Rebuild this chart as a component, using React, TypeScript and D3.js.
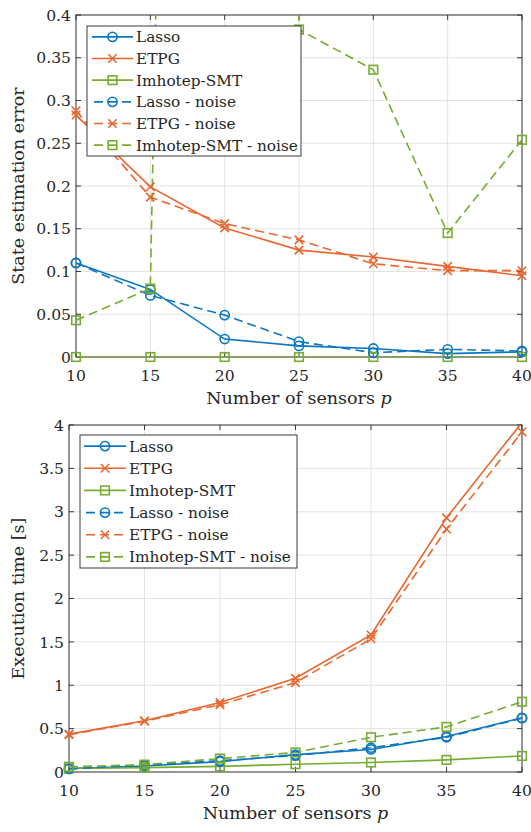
import React from "react";
import * as d3 from "d3";

const sensors = [10, 15, 20, 25, 30, 35, 40];

const errLasso = [0.110, 0.079, 0.021, 0.013, 0.010, 0.004, 0.006];
const errETPG = [0.283, 0.199, 0.151, 0.125, 0.117, 0.106, 0.095];
const errImhotep = [0, 0, 0, 0, 0, 0, 0];
const errLassoNoise = [0.110, 0.072, 0.049, 0.018, 0.005, 0.009, 0.007];
const errETPGNoise = [0.288, 0.187, 0.156, 0.137, 0.109, 0.101, 0.101];
const errImhotepNoise = [0.043, 0.080, 4.5, 0.383, 0.336, 0.145, 0.254];

const timeLasso = [0.04, 0.07, 0.12, 0.20, 0.26, 0.41, 0.625];
const timeETPG = [0.437, 0.59, 0.80, 1.08, 1.58, 2.93, 4.03];
const timeImhotep = [0.04, 0.05, 0.065, 0.09, 0.11, 0.14, 0.185];
const timeLassoNoise = [0.035, 0.08, 0.13, 0.19, 0.28, 0.40, 0.62];
const timeETPGNoise = [0.43, 0.585, 0.775, 1.03, 1.535, 2.80, 3.92];
const timeImhotepNoise = [0.06, 0.085, 0.155, 0.225, 0.40, 0.52, 0.81];

const seriesNames = ["Lasso", "ETPG", "Imhotep-SMT", "Lasso - noise", "ETPG - noise", "Imhotep-SMT - noise"];
const xTicks = [10, 15, 20, 25, 30, 35, 40];
const errTicks = [0, 0.05, 0.1, 0.15, 0.2, 0.25, 0.3, 0.35, 0.4];
const timeTicks = [0, 0.5, 1, 1.5, 2, 2.5, 3, 3.5, 4];

const BLUE = "#0a77c0";
const ORANGE = "#e8662f";
const GREEN = "#77ac30";
const AX = "#262626";
const FONT = "DejaVu Serif";

type Spec = { name: string; values: number[]; color: string; marker: string; dashed: boolean };

function Marker({ type, x, y, color }: { type: string; x: number; y: number; color: string }) {
  if (type === "o") return <circle cx={x} cy={y} r={4.6} fill="none" stroke={color} strokeWidth={1.6} />;
  if (type === "s") return <rect x={x - 4.3} y={y - 4.3} width={8.6} height={8.6} fill="none" stroke={color} strokeWidth={1.6} />;
  const s = 4.2;
  return (
    <g stroke={color} strokeWidth={1.6}>
      <line x1={x - s} y1={y - s} x2={x + s} y2={y + s} />
      <line x1={x - s} y1={y + s} x2={x + s} y2={y - s} />
    </g>
  );
}

function Chart(props: {
  id: string;
  left: number; right: number; top: number; bottom: number;
  yMax: number; yTicks: number[]; yLabel: string;
  series: Spec[];
  legend: { x0: number; x1: number; y0: number; y1: number; sx0: number; sx1: number; tx: number };
}) {
  const { id, left, right, top, bottom, yMax, yTicks, yLabel, series, legend } = props;
  const x = d3.scaleLinear().domain([10, 40]).range([left, right]);
  const y = d3.scaleLinear().domain([0, yMax]).range([bottom, top]);
  const line = d3.line<number>().x((_, i) => x(sensors[i])).y((d) => y(d));
  const tl = 5;
  const rowH = (legend.y1 - legend.y0) / 6;
  return (
    <g>
      <defs>
        <clipPath id={id}>
          <rect x={left} y={top} width={right - left} height={bottom - top} />
        </clipPath>
      </defs>
      <rect x={left} y={top} width={right - left} height={bottom - top} fill="#fff" />
      {xTicks.map((t) => (
        <line key={"gx" + t} x1={x(t)} x2={x(t)} y1={top} y2={bottom} stroke="#e3e3e3" strokeWidth={1} />
      ))}
      {yTicks.map((t) => (
        <line key={"gy" + t} x1={left} x2={right} y1={y(t)} y2={y(t)} stroke="#e3e3e3" strokeWidth={1} />
      ))}
      <rect x={left} y={top} width={right - left} height={bottom - top} fill="none" stroke={AX} strokeWidth={0.9} />
      {xTicks.map((t) => (
        <g key={"tx" + t}>
          <line x1={x(t)} x2={x(t)} y1={bottom} y2={bottom - tl} stroke={AX} strokeWidth={0.9} />
          <line x1={x(t)} x2={x(t)} y1={top} y2={top + tl} stroke={AX} strokeWidth={0.9} />
          <text x={x(t)} y={bottom + 24} textAnchor="middle" fontSize={15.6} fill={AX} fontFamily={FONT}>{t}</text>
        </g>
      ))}
      {yTicks.map((t) => (
        <g key={"ty" + t}>
          <line x1={left} x2={left + tl} y1={y(t)} y2={y(t)} stroke={AX} strokeWidth={0.9} />
          <line x1={right} x2={right - tl} y1={y(t)} y2={y(t)} stroke={AX} strokeWidth={0.9} />
          <text x={left - 5} y={y(t) + 5.7} textAnchor="end" fontSize={15.6} fill={AX} fontFamily={FONT}>{String(t)}</text>
        </g>
      ))}
      <text x={(left + right) / 2} y={bottom + 47} textAnchor="middle" fontSize={17.5} fill={AX} fontFamily={FONT}>
        Number of sensors <tspan fontStyle="italic">p</tspan>
      </text>
      <text transform={`translate(${24},${(top + bottom) / 2}) rotate(-90)`} textAnchor="middle" fontSize={17.5} fill={AX} fontFamily={FONT}>
        {yLabel}
      </text>
      <g clipPath={`url(#${id})`}>
        {series.map((s) => (
          <path key={"l" + s.name} d={line(s.values) || ""} fill="none" stroke={s.color} strokeWidth={1.6}
            strokeDasharray={s.dashed ? "9,5" : undefined} />
        ))}
      </g>
      {series.map((s) =>
        s.values.map((v, i) =>
          v <= yMax ? <Marker key={s.name + i} type={s.marker} x={x(sensors[i])} y={y(v)} color={s.color} /> : null
        )
      )}
      <rect x={legend.x0} y={legend.y0} width={legend.x1 - legend.x0} height={legend.y1 - legend.y0} fill="#fff" stroke={AX} strokeWidth={0.9} />
      {series.map((s, i) => {
        const cy = legend.y0 + rowH * (i + 0.5);
        return (
          <g key={"lg" + s.name}>
            <line x1={legend.sx0} x2={legend.sx1} y1={cy} y2={cy} stroke={s.color} strokeWidth={1.6}
              strokeDasharray={s.dashed ? "9,5" : undefined} strokeDashoffset={s.dashed ? -2 : undefined} />
            <Marker type={s.marker} x={(legend.sx0 + legend.sx1) / 2} y={cy} color={s.color} />
            <text x={legend.tx} y={cy + 5.5} fontSize={15.3} fill={AX} fontFamily={FONT}>{s.name}</text>
          </g>
        );
      })}
    </g>
  );
}

function makeSeries(vals: number[][]): Spec[] {
  const colors = [BLUE, ORANGE, GREEN, BLUE, ORANGE, GREEN];
  const markers = ["o", "x", "s", "o", "x", "s"];
  return vals.map((v, i) => ({ name: seriesNames[i], values: v, color: colors[i], marker: markers[i], dashed: i >= 3 }));
}

export default function App() {
  const errSeries = makeSeries([errLasso, errETPG, errImhotep, errLassoNoise, errETPGNoise, errImhotepNoise]);
  const timeSeries = makeSeries([timeLasso, timeETPG, timeImhotep, timeLassoNoise, timeETPGNoise, timeImhotepNoise]);
  return (
    <svg width={531} height={832} style={{ position: "absolute", left: 0, top: 0, background: "#fff" }}>
      <rect x={0} y={0} width={531} height={832} fill="#fff" />
      <Chart id="c1" left={76} right={522} top={15} bottom={357} yMax={0.4} yTicks={errTicks}
        yLabel="State estimation error" series={errSeries}
        legend={{ x0: 87, x1: 301, y0: 26, y1: 156, sx0: 92, sx1: 133, tx: 136 }} />
      <Chart id="c2" left={69} right={522} top={425} bottom={772} yMax={4} yTicks={timeTicks}
        yLabel="Execution time [s]" series={timeSeries}
        legend={{ x0: 80, x1: 297, y0: 435, y1: 568, sx0: 84, sx1: 126, tx: 129 }} />
    </svg>
  );
}
